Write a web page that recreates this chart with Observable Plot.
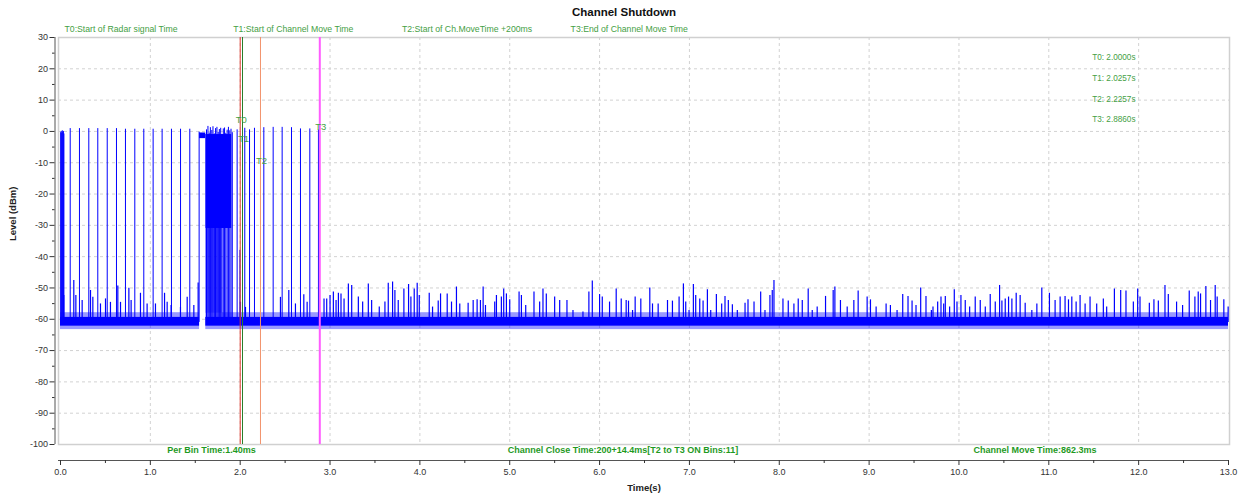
<!DOCTYPE html>
<html><head><meta charset="utf-8">
<script src="https://cdn.jsdelivr.net/npm/d3@7"></script>
<script src="https://cdn.jsdelivr.net/npm/@observablehq/plot@0.6"></script>
<style>html,body{margin:0;padding:0;background:#fff;} #chart svg{display:block}</style>
</head><body><div id="chart"></div>
<script>
// ---------------- DATA ----------------
const chartTitle = "Channel Shutdown";
const xAxisTitle = "Time(s)";
const yAxisTitle = "Level (dBm)";
const markerNames = ["T0", "T1", "T2", "T3"];
const markerTimes = [2.0000, 2.0257, 2.2257, 2.8860];
const markerDescriptions = ["T0:Start of Radar signal Time", "T1:Start of Channel Move Time", "T2:Start of Ch.MoveTime +200ms", "T3:End of Channel Move Time"];
const markerLabelLevels = [3.8, -2.3, -9.3, 1.3];
const summaryTexts = ["Per Bin Time:1.40ms", "Channel Close Time:200+14.4ms[T2 to T3 ON Bins:11]", "Channel Move Time:862.3ms"];

const xTickValues = [0,1,2,3,4,5,6,7,8,9,10,11,12,13];
const xMinorTickValues = [0.5,1.5,2.5,3.5,4.5,5.5,6.5,7.5,8.5,9.5,10.5,11.5,12.5];
const xGridValues = [1,2,3,4,5,6,7,8,9,10,11,12];
const yTickValues = [30,20,10,0,-10,-20,-30,-40,-50,-60,-70,-80,-90,-100];
const yMinorTickValues = [25,15,5,-5,-15,-25,-35,-45,-55,-65,-75,-85,-95];
const yGridValues = [20,10,0,-10,-20,-30,-40,-50,-60,-70,-80,-90];

// noise floor (dBm) and the spans where it is present (s)
const floorBase = -61;
const floorCore = [-62.2, -59.4];
const floorFringe = [-63.3, -57.9];
const floorSpans = [[0.0, 1.548], [1.617, 13.0]];

// radar pulses: [time s, peak dBm]
const radarPulses = [
  [0.002,-0.4],[0.008,0.0],[0.014,-0.6],[0.020,0.2],[0.026,-0.3],[0.032,0.0],[0.038,-0.8],
  [0.108,0.9],[0.211,0.9],[0.315,0.9],[0.415,0.9],[0.520,0.9],[0.623,0.9],[0.723,0.7],
  [0.827,0.7],[0.927,0.7],[1.031,0.7],[1.131,0.7],[1.235,0.7],[1.336,0.7],[1.439,0.7],[1.543,-0.2],
  [1.966,0.5],[1.997,-38.0],[2.051,1.0],[2.104,0.5],[2.159,1.0],[2.263,1.2],[2.367,1.3],
  [2.467,1.3],[2.571,1.2],[2.671,0.8],[2.775,0.8],[2.871,0.5]
];
// dense burst pulses: [time s, peak dBm]
const burstPulses = [
  [1.625,0.5],[1.641,1.6],[1.655,-0.5],[1.668,1.2],[1.684,0.3],[1.697,1.5],[1.712,-0.8],
  [1.726,0.9],[1.741,1.3],[1.755,-0.3],[1.768,0.6],[1.783,1.0],[1.797,-1.0],[1.812,0.8],
  [1.826,1.1],[1.840,-0.6],[1.855,0.4],[1.869,1.3],[1.884,0.2],[1.898,0.7],[1.912,-0.4]
];
// continuous-on span and burst envelopes: [start s, end s, low dBm, high dBm]
const onSpans = [[1.548, 1.617, -2.3, -0.5]];
const burstUpper = [[1.617, 1.905, -31, -1.0]];
const burstLower = [[1.617, 1.800, -58, -31]];

// noise spikes above the floor: [time s, peak dBm]
const noiseSpikes = [
  [0.037,-52.4],[0.148,-47.6],[0.171,-52.4],[0.241,-54.0],[0.334,-50.8],[0.360,-53.0],[0.445,-55.1],
  [0.501,-53.5],[0.556,-54.6],[0.638,-49.4],[0.668,-54.6],[0.761,-50.1],[0.786,-54.0],[0.890,-51.7],
  [0.964,-55.1],[1.057,-55.1],[1.158,-51.7],[1.187,-54.6],[1.231,-55.6],[1.335,-56.2],[1.410,-53.0],
  [1.484,-55.6],[1.532,-48.4],
  [2.003,-54.6],[2.059,-56.2],[2.448,-53.0],[2.541,-50.8],[2.615,-55.1],[2.708,-52.2],[2.745,-54.6],
  [2.933,-53.5],[2.963,-53.5],[3.000,-52.4],[3.037,-51.3],[3.067,-54.0],[3.093,-51.7],[3.122,-51.9],
  [3.156,-53.5],[3.204,-48.7],[3.241,-49.2],[3.315,-52.9],[3.363,-54.5],[3.426,-48.7],[3.463,-54.0],
  [3.548,-56.1],[3.611,-54.5],[3.648,-48.5],[3.696,-48.1],[3.722,-50.8],[3.759,-54.0],[3.822,-50.3],
  [3.874,-48.9],[3.900,-52.9],[3.937,-50.3],[3.970,-48.5],[3.993,-52.4],[4.104,-51.7],[4.141,-56.1],
  [4.204,-54.2],[4.230,-51.9],[4.304,-51.9],[4.352,-54.5],[4.407,-49.7],[4.444,-55.1],[4.537,-54.9],
  [4.593,-54.0],[4.637,-53.8],[4.674,-54.0],[4.704,-49.7],[4.730,-55.6],[4.833,-54.5],[4.852,-52.4],
  [4.907,-52.9],[4.933,-50.3],[4.963,-51.9],[5.000,-53.8],[5.104,-51.3],[5.130,-52.4],[5.178,-55.6],
  [5.270,-51.3],[5.333,-54.5],[5.370,-50.3],[5.407,-51.9],[5.500,-52.9],[5.556,-54.0],[5.637,-54.0],
  [5.704,-57.2],[5.815,-57.7],[5.881,-51.3],[5.919,-47.8],[6.000,-52.1],[6.030,-52.9],[6.111,-54.5],
  [6.185,-50.3],[6.241,-53.5],[6.296,-54.0],
  [6.322,-54.2],[6.367,-57.2],[6.396,-52.9],[6.459,-53.5],[6.559,-50.0],[6.589,-55.1],[6.652,-55.1],
  [6.756,-54.0],[6.811,-54.2],[6.885,-52.9],[6.933,-48.7],[6.959,-54.5],[6.996,-57.2],[7.044,-48.9],
  [7.070,-52.4],[7.115,-53.5],[7.152,-54.2],[7.200,-50.6],[7.237,-57.2],[7.300,-52.1],[7.359,-55.1],
  [7.396,-52.7],[7.433,-54.0],[7.478,-55.4],[7.533,-57.2],[7.619,-54.9],[7.652,-53.8],[7.719,-54.5],
  [7.793,-51.3],[7.841,-57.2],[7.896,-52.4],[7.922,-50.8],[7.941,-47.6],[8.041,-53.5],[8.100,-54.2],
  [8.163,-55.1],[8.211,-53.5],[8.256,-54.0],[8.322,-50.3],[8.367,-57.2],[8.422,-56.1],[8.515,-52.7],
  [8.600,-50.8],[8.619,-49.7],[8.681,-54.0],[8.756,-56.1],[8.830,-54.0],[8.878,-51.0],[8.978,-52.9],
  [9.015,-53.8],[9.078,-56.1],[9.189,-55.1],[9.237,-55.6],[9.311,-57.2],[9.374,-52.1],[9.433,-52.7],
  [9.478,-54.2],[9.522,-55.6],[9.574,-50.0],[9.633,-52.7],[9.693,-57.2],
  [9.711,-56.1],[9.763,-54.5],[9.800,-52.9],[9.830,-55.1],[9.848,-52.7],[9.896,-56.1],[9.948,-50.6],
  [9.978,-54.5],[10.022,-52.4],[10.070,-54.0],[10.119,-56.1],[10.181,-52.9],[10.237,-54.0],[10.293,-56.1],
  [10.348,-52.1],[10.404,-54.5],[10.452,-49.2],[10.478,-54.2],[10.515,-53.5],[10.552,-52.9],[10.589,-53.5],
  [10.637,-51.7],[10.681,-52.4],[10.737,-54.9],[10.811,-57.2],[10.867,-55.1],[10.922,-50.0],[11.007,-51.7],
  [11.070,-54.0],[11.126,-52.9],[11.181,-52.7],[11.219,-53.8],[11.256,-52.9],[11.304,-54.5],[11.348,-52.4],
  [11.404,-55.1],[11.459,-52.9],[11.533,-55.1],[11.607,-53.5],[11.644,-56.1],[11.730,-50.3],[11.800,-50.8],
  [11.859,-51.0],[11.941,-54.5],[11.989,-50.3],[12.015,-52.9],[12.119,-54.9],[12.170,-53.8],[12.219,-54.2],
  [12.293,-49.2],[12.330,-52.1],[12.422,-54.5],[12.489,-55.6],[12.563,-51.0],[12.626,-52.9],[12.663,-51.3],
  [12.689,-51.9],[12.748,-49.5],[12.800,-54.0],[12.852,-49.2],[12.874,-52.9],[12.948,-53.8],[12.996,-56.1]
];

// ---------------- STYLE ----------------
const TRACE = "#0000ff";
const LABEL_GREEN = "#45a045";
const BOLD_GREEN = "#1f9a1f";
const GRID = "#d2d2d2";
const AXIS = "#555";
const markerStyles = [
  {stroke: "#e2372c", width: 1},
  {stroke: "#2a7d2a", width: 1},
  {stroke: "#f2936b", width: 1},
  {stroke: "#ff5cff", width: 2}
];
const SANS = "'Liberation Sans', Arial, sans-serif";

// ---------------- TABLES ----------------
const markers = markerNames.map((name, i) => ({name, time: markerTimes[i], labelLevel: markerLabelLevels[i], desc: markerDescriptions[i]}));
const toPeak = ([t, peak]) => ({t, peak});
const toBand = ([start, end, lo, hi]) => ({start, end, lo, hi});
const floorRowsCore = floorSpans.map(([start, end]) => ({start, end, lo: floorCore[0], hi: floorCore[1]}));
const floorRowsFringe = floorSpans.map(([start, end]) => ({start, end, lo: floorFringe[0], hi: floorFringe[1]}));

const bandRect = (rows, opts) => Plot.rect(rows, {x1: "start", x2: "end", y1: "lo", y2: "hi", fill: TRACE, ...opts});
const peakRules = (rows, w = 1) => Plot.ruleX(rows.map(toPeak), {x: "t", y1: floorBase, y2: "peak", stroke: TRACE, strokeWidth: w});

const chart = Plot.plot({
  width: 1247, height: 497,
  marginLeft: 58, marginRight: 18, marginTop: 37, marginBottom: 53,
  style: {fontFamily: SANS, fontSize: "9px", color: "#333", background: "#fff"},
  x: {domain: [0, 13], insetLeft: 2, insetRight: 1},
  y: {domain: [-100, 30]},
  marks: [
    Plot.gridX({ticks: xGridValues, stroke: GRID, strokeOpacity: 1, strokeDasharray: "3,3"}),
    Plot.gridY({ticks: yGridValues, stroke: GRID, strokeOpacity: 1, strokeDasharray: "3,3"}),
    Plot.frame({stroke: "#d0d0d0", strokeWidth: 1.5}),

    // noise floor
    bandRect(floorRowsFringe, {fillOpacity: 0.4}),
    bandRect(floorRowsCore, {fillOpacity: 1}),
    peakRules(noiseSpikes, 1.2),
    // pulses and burst
    bandRect(burstLower.map(toBand), {fillOpacity: 0.6}),
    bandRect(burstUpper.map(toBand), {fillOpacity: 1}),
    bandRect(onSpans.map(toBand), {fillOpacity: 1}),
    peakRules(radarPulses),
    peakRules(burstPulses),

    // markers
    ...markers.map((m, i) => Plot.ruleX([m], {x: "time", y1: -100, y2: 30, stroke: markerStyles[i].stroke, strokeWidth: markerStyles[i].width})),
    Plot.text(markers, {x: "time", y: "labelLevel", text: "name", fill: LABEL_GREEN, fontSize: 9.5, dx: 1}),

    // axes
    Plot.ruleX([0], {y1: -100, y2: 30, dx: -5.5, stroke: AXIS}),
    Plot.axisY({ticks: yTickValues, tickSize: 5, tickPadding: 2, dx: -3.5, tickFormat: d => String(d), label: null, color: "#333", fontSize: 9}),
    Plot.axisY({ticks: yMinorTickValues, tickSize: 2.5, dx: -3.5, tickFormat: () => "", label: null, color: "#333"}),
    Plot.ruleY([-100], {dy: 16, stroke: AXIS}),
    Plot.axisX({ticks: xTickValues, tickSize: 5, tickPadding: 3, dy: 16, tickFormat: d => d.toFixed(1), label: null, color: "#333", fontSize: 9}),
    Plot.axisX({ticks: xMinorTickValues, tickSize: 3, dy: 16, tickFormat: () => "", label: null, color: "#333"}),

    // titles
    Plot.text([chartTitle], {text: d => d, frameAnchor: "top", lineAnchor: "middle", dx: -20, dy: -25, fontWeight: "bold", fontSize: 11.5, fill: "#111"}),
    Plot.text([xAxisTitle], {text: d => d, frameAnchor: "bottom", lineAnchor: "middle", dy: 43, fontWeight: "bold", fontSize: 9.5, fill: "#222"}),
    Plot.text([yAxisTitle], {text: d => d, frameAnchor: "left", lineAnchor: "middle", dx: -46, rotate: -90, fontWeight: "bold", fontSize: 9.5, fill: "#222"}),

    // marker descriptions along the top
    ...markers.map((m, i) => Plot.text([m], {text: "desc", frameAnchor: "top-left", lineAnchor: "middle", dx: 6 + i * 168.7, dy: -8, textAnchor: "start", fill: LABEL_GREEN, fontSize: 8.7})),
    // marker times at right
    ...markers.map((m, i) => Plot.text([m], {text: d => `${d.name}: ${d.time.toFixed(4)}s`, frameAnchor: "top-right", lineAnchor: "middle", dx: -94, dy: 20 + i * 20.7, textAnchor: "end", fill: LABEL_GREEN, fontSize: 8.2})),
    // summary texts along the bottom
    ...summaryTexts.map((s, i) => Plot.text([s], {text: d => d, frameAnchor: "bottom-left", lineAnchor: "middle", dx: [153, 564.5, 976.5][i], dy: 6, textAnchor: "middle", fill: BOLD_GREEN, fontWeight: "bold", fontSize: 9}))
  ]
});
document.getElementById("chart").appendChild(chart);
</script></body></html>
